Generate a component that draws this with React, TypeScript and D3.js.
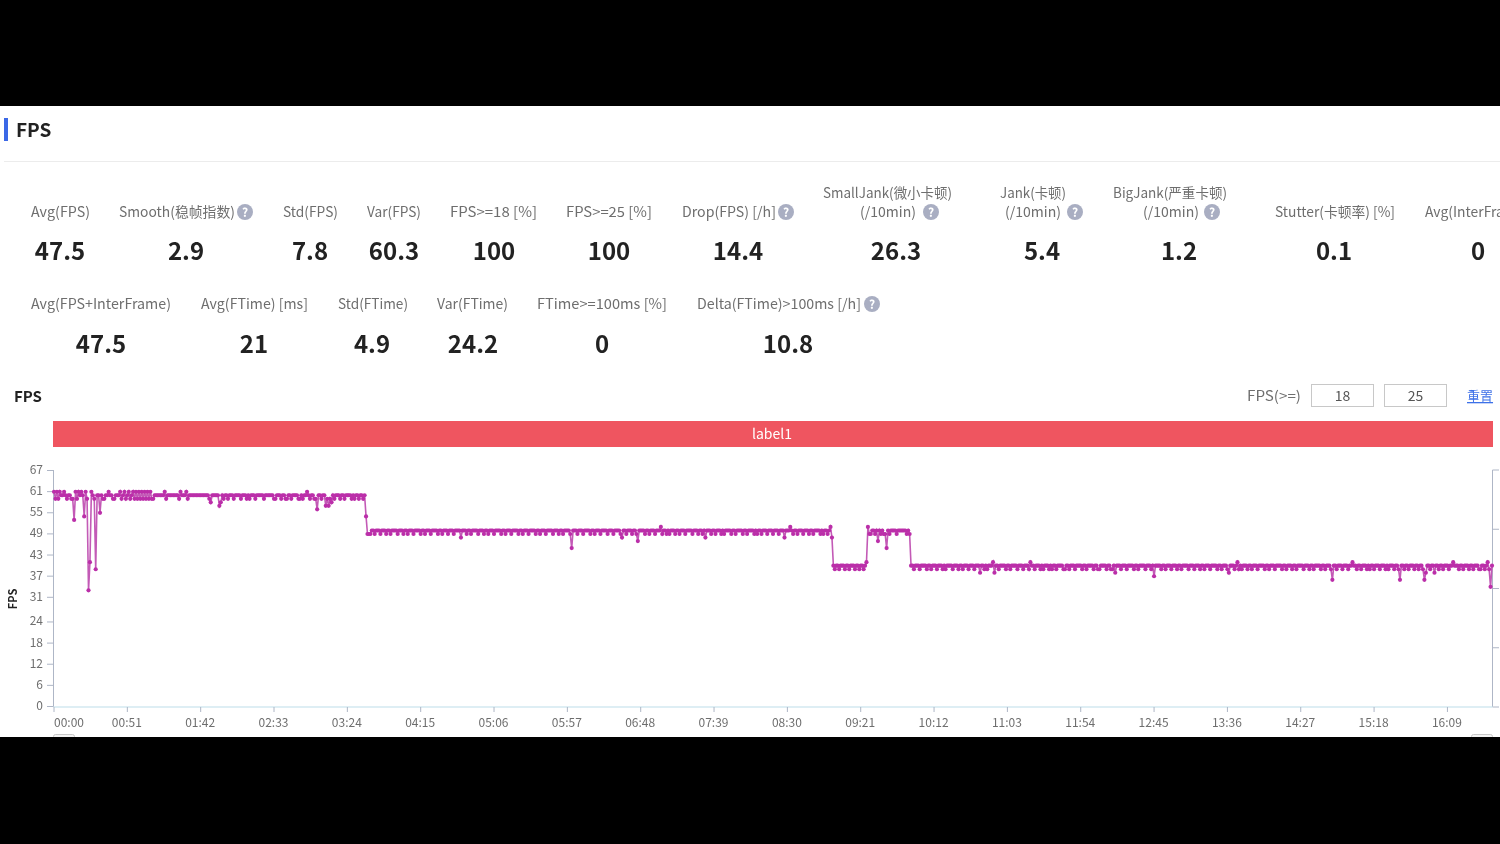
import React from "react";
import * as d3 from "d3";

// ---- data ----
const fpsPhase60 = [
  61,59,61,59,61,60,60,61,60,59,60,60,59,59,53,61,59,61,60,61,
  60,54,61,59,33,41,61,60,59,39,60,60,55,60,59,59,60,60,61,60,
  60,59,59,60,60,60,61,59,60,61,59,60,61,59,60,61,59,61,59,61,
  59,61,59,61,59,61,59,61,59,59,60,60,60,60,60,60,60,61,59,60,
  60,60,60,60,60,60,60,59,61,60,60,60,61,59,60,60,60,60,60,60,
  60,60,60,60,60,60,60,60,59,58,60,60,60,60,60,57,58,60,59,60,
  60,59,60,60,60,59,60,60,60,60,59,60,60,60,59,60,59,60,60,60,
  59,60,60,60,60,60,59,60,60,60,60,60,60,59,59,60,60,60,59,60,
  60,59,59,60,60,59,60,60,60,60,59,59,60,59,60,60,61,60,59,60,
  60,59,59,56,60,60,59,60,60,57,59,57,59,58,60,59,60,60,60,59,
  60,60,59,60,60,60,60,59,60,59,60,60,59,60,60,59,60,54,
];
const fpsPhase50 = [
  49,49,49,50,50,49,50,50,50,49,50,50,50,49,50,50,49,50,50,50,
  50,49,50,50,50,49,50,50,49,50,50,50,49,50,50,50,50,49,50,50,
  49,50,50,50,49,50,50,50,50,49,50,50,49,50,50,50,49,50,50,50,
  49,50,50,50,50,48,50,50,50,49,50,50,49,50,50,50,50,49,50,50,
  50,49,50,50,49,50,50,50,49,50,50,50,50,49,50,50,49,50,50,50,
  49,50,50,50,50,49,50,50,49,50,50,50,49,50,50,50,50,49,50,50,
  49,50,50,50,49,50,50,50,50,49,50,50,50,49,50,50,49,50,50,50,
  50,49,45,50,50,50,49,50,50,50,49,50,50,50,50,49,50,50,49,50,
  50,50,49,50,50,50,50,49,50,50,50,49,50,50,50,50,49,48,50,50,
  49,50,50,50,49,50,50,49,47,50,50,50,50,49,50,50,49,50,50,50,
  49,50,50,50,51,49,50,50,49,50,49,50,50,50,49,50,50,49,50,50,
  50,49,50,50,50,50,49,50,50,50,49,50,50,49,50,48,50,50,50,49,
  50,50,49,50,50,50,49,50,49,50,50,50,50,49,50,50,49,50,50,50,
  50,49,50,50,49,50,50,50,50,49,50,49,50,50,49,50,50,50,49,50,
  50,50,49,50,50,50,49,50,50,50,48,50,50,50,51,50,49,50,50,49,
  50,50,50,49,50,50,50,49,50,50,49,50,50,50,50,49,50,49,50,50,
  49,50,51,48,
];
const fpsPhaseDrop40 = [
  40,39,40,40,39,40,40,40,39,40,40,39,40,40,40,39,40,40,39,40,40,39,40,41,
];
const fpsPhaseBack50 = [
  51,49,49,50,50,49,50,47,50,49,50,49,49,45,50,49,50,50,50,50,49,50,50,50,50,50,50,49,50,49,
];
const fpsPhase40 = [
  40,40,39,40,40,40,39,40,40,40,40,39,40,40,39,40,40,40,39,40,
  40,40,39,40,39,40,40,40,40,39,40,40,40,39,40,40,39,40,40,40,
  39,40,40,40,39,40,40,40,38,40,40,39,40,39,40,40,40,41,38,40,
  40,39,40,40,40,40,39,40,40,39,40,40,40,40,39,40,40,40,39,40,
  40,40,39,41,40,40,39,40,40,40,39,40,39,40,40,40,39,40,39,40,
  40,39,40,40,40,40,39,39,40,40,39,40,40,40,39,40,40,40,40,39,
  40,40,39,40,40,40,40,39,40,40,39,39,40,40,40,40,39,40,40,39,
  39,40,38,40,40,40,39,40,40,40,39,40,40,40,40,39,40,40,39,40,
  40,40,40,39,40,40,40,39,40,37,40,40,40,40,39,40,40,39,40,40,
  40,39,40,40,40,39,40,40,39,40,40,40,40,39,40,40,40,39,40,40,
  40,39,40,40,39,40,40,40,39,40,40,40,40,39,40,40,39,40,40,40,
  39,38,40,40,40,39,40,41,39,40,39,40,40,40,39,40,40,39,40,40,
  40,39,40,40,40,40,39,40,40,39,40,40,40,39,40,40,40,40,39,40,
  40,39,40,40,40,39,40,40,39,40,40,40,40,39,40,40,40,39,40,40,
  39,40,40,40,40,39,40,40,39,40,40,40,39,36,40,40,39,40,40,40,
  39,40,40,40,39,40,40,41,40,40,39,40,40,39,40,40,40,39,40,39,
  40,40,39,40,40,40,39,40,40,40,39,40,39,40,40,40,39,40,40,39,
  36,40,40,39,40,40,39,40,40,40,39,40,40,39,40,40,39,36,38,40,
  40,39,40,40,38,40,40,39,40,40,39,40,40,40,39,40,40,41,40,40,
  40,39,40,40,39,40,40,40,39,40,40,39,40,40,40,39,39,40,40,39,
  40,41,39,34,40,
];
const fpsValues = [...fpsPhase60, ...fpsPhase50, ...fpsPhaseDrop40, ...fpsPhaseBack50, ...fpsPhase40];

const yTicks = [0, 6, 12, 18, 24, 31, 37, 43, 49, 55, 61, 67];
const xTickSeconds = [0, 51, 102, 153, 204, 255, 306, 357, 408, 459, 510, 561, 612, 663, 714, 765, 816, 867, 918, 969];
const xTickLabels = ["00:00","00:51","01:42","02:33","03:24","04:15","05:06","05:57","06:48","07:39","08:30","09:21","10:12","11:03","11:54","12:45","13:36","14:27","15:18","16:09"];

const row1Labels = ["Avg(FPS)","Smooth(稳帧指数)","Std(FPS)","Var(FPS)","FPS>=18 [%]","FPS>=25 [%]","Drop(FPS) [/h]","SmallJank(微小卡顿)","Jank(卡顿)","BigJank(严重卡顿)","Stutter(卡顿率) [%]","Avg(InterFrame)"];
const row1Values = ["47.5","2.9","7.8","60.3","100","100","14.4","26.3","5.4","1.2","0.1","0"];
const row2Labels = ["Avg(FPS+InterFrame)","Avg(FTime) [ms]","Std(FTime)","Var(FTime)","FTime>=100ms [%]","Delta(FTime)>100ms [/h]"];
const row2Values = ["47.5","21","4.9","24.2","0","10.8"];
const subLabel = "(/10min)";
const thresholdValues = ["18", "25"];

// ---- layout ----
const row1LabelX = [31,119,283,367,450,566,682,823,1000,1113,1275,1425];
const row1LabelW = [59,116,55,54,87,86,94,129,66,114,120,104];
const row1LabelY = [217,217,217,217,217,217,217,198,198,198,217,217];
const row1ValueX = [60,186,310,394,494,609,738,896,1042,1179,1334,1478];
const row2LabelX = [31,201,338,437,537,697];
const row2LabelW = [140,107,70,71,130,164];
const row2ValueX = [101,254,372,473,602,788];
const subX = [860,1005,1143];
const iconPos: [number, number][] = [[245,212],[786,212],[931,212],[1075,212],[1212,212],[872,304]];
const inputX = [1311, 1384];

const plot = { left: 53.5, right: 1492.5, top: 470, bottom: 706 };
const uiFont = "'Noto Sans CJK SC','Noto Sans',sans-serif";
const grayText = "#6e6e6e";
const axisColor = "#aeb6c6";
const magenta = "#bb2fa9";

export default function App() {
  const x = d3.scaleLinear().domain([0, 1000]).range([54, 1492]);
  const y = d3.scaleLinear().domain([0, 67]).range([plot.bottom, plot.top]);
  const seriesY = d3.scaleLinear().domain([0, 67]).range([plot.bottom + 0.6, plot.top + 0.6]);
  const linePath = d3.line<number>().x((_, i) => x(i)).y((d) => seriesY(d))(fpsValues) ?? "";
  const rightTicks = [0, 1, 2, 3, 4].map((k) => plot.top + ((plot.bottom + 1 - plot.top) * k) / 4);

  return (
    <svg width={1500} height={844} viewBox="0 0 1500 844"
      style={{ position: "absolute", left: 0, top: 0, display: "block", background: "#000", fontFamily: uiFont }}>
      <defs>
        <filter id="soft" x="0" y="0" width="100%" height="100%" filterUnits="userSpaceOnUse" primitiveUnits="userSpaceOnUse">
          <feGaussianBlur stdDeviation="0.35" />
        </filter>
      </defs>
      <rect x={0} y={106} width={1500} height={631} fill="#fff" />

      <g filter="url(#soft)">
      <rect x={4} y={118} width={4} height={23} fill="#3a68e6" />
      <text x={16} y={137} fontSize={19} fontWeight={700} fill="#222">FPS</text>
      <line x1={4} x2={1500} y1={161.5} y2={161.5} stroke="#ececec" />

      {row1Labels.map((t, i) => (
        <text key={t} x={row1LabelX[i]} y={row1LabelY[i]} fontSize={14} fill={grayText}
          textLength={row1LabelW[i]} lengthAdjust="spacingAndGlyphs">{t}</text>
      ))}
      {subX.map((sx) => (
        <text key={sx} x={sx} y={217} fontSize={14} fill={grayText} textLength={56} lengthAdjust="spacingAndGlyphs">{subLabel}</text>
      ))}
      {row1Values.map((t, i) => (
        <text key={i} x={row1ValueX[i]} y={260} fontSize={24} fontWeight={700} fill="#222" textAnchor="middle">{t}</text>
      ))}
      {row2Labels.map((t, i) => (
        <text key={t} x={row2LabelX[i]} y={309} fontSize={14} fill={grayText}
          textLength={row2LabelW[i]} lengthAdjust="spacingAndGlyphs">{t}</text>
      ))}
      {row2Values.map((t, i) => (
        <text key={i} x={row2ValueX[i]} y={353} fontSize={24} fontWeight={700} fill="#222" textAnchor="middle">{t}</text>
      ))}
      {iconPos.map(([cx, cy]) => (
        <g key={`${cx}-${cy}`}>
          <circle cx={cx} cy={cy} r={8} fill="#a9aec2" />
          <text x={cx} y={cy + 4.5} fontSize={12} fontWeight={700} fill="#fff" textAnchor="middle">?</text>
        </g>
      ))}

      <text x={14} y={402} fontSize={15} fontWeight={700} fill="#222">FPS</text>
      <text x={1247} y={401} fontSize={14} fill={grayText} textLength={54} lengthAdjust="spacingAndGlyphs">FPS(&gt;=)</text>
      {inputX.map((ix, i) => (
        <g key={ix}>
          <rect x={ix + 0.5} y={384.5} width={62} height={22} fill="#fff" stroke="#c8c8c8" />
          <text x={ix + 31.5} y={401} fontSize={14} fill="#555" textAnchor="middle">{thresholdValues[i]}</text>
        </g>
      ))}
      <text x={1467} y={401} fontSize={13} fill="#3f72e8" textDecoration="underline">重置</text>

      <rect x={53} y={421} width={1440} height={26} fill="#ef5561" />
      <text x={772} y={438.5} fontSize={14} fill="#fff" textAnchor="middle">label1</text>

      {/* left y axis */}
      <line x1={plot.left} x2={plot.left} y1={plot.top} y2={plot.bottom + 1} stroke={axisColor} />
      {yTicks.map((v) => (
        <g key={v}>
          <line x1={47} x2={plot.left} y1={y(v) + 0.5} y2={y(v) + 0.5} stroke={axisColor} />
          <text x={43} y={y(v) + 4} fontSize={12} fill={grayText} textAnchor="end">{v}</text>
        </g>
      ))}
      <text transform="translate(17,599) rotate(-90)" fontSize={11} fontWeight={700} fill="#222" textAnchor="middle">FPS</text>

      {/* right y axis */}
      <line x1={plot.right} x2={plot.right} y1={plot.top} y2={plot.bottom + 1} stroke={axisColor} />
      {rightTicks.map((ty) => (
        <line key={ty} x1={plot.right} x2={1499} y1={ty} y2={ty} stroke={axisColor} />
      ))}

      {/* x axis */}
      <line x1={plot.left} x2={plot.right} y1={707} y2={707} stroke="#d3e9f1" strokeWidth={1.5} />
      {xTickSeconds.map((s, i) => (
        <g key={s}>
          <line x1={x(s)} x2={x(s)} y1={707} y2={712} stroke={axisColor} />
          <text x={i === 0 ? 54 : x(s) - 0.5} y={726.5} fontSize={12} fill={grayText} textAnchor={i === 0 ? "start" : "middle"}>{xTickLabels[i]}</text>
        </g>
      ))}

      {/* series */}
      <path d={linePath} fill="none" stroke="#c35ab6" strokeWidth={1.6} />
      {fpsValues.map((v, i) => (
        <circle key={i} cx={x(i)} cy={seriesY(v)} r={2.1} fill={magenta} />
      ))}

      {/* data zoom handles */}
      <rect x={53.5} y={734.5} width={21} height={6} rx={2} fill="#f4f4f4" stroke="#c8c8c8" />
      <rect x={1471.5} y={734.5} width={21} height={6} rx={2} fill="#f4f4f4" stroke="#c8c8c8" />
      </g>
      <rect x={0} y={737} width={1500} height={107} fill="#000" />
    </svg>
  );
}
